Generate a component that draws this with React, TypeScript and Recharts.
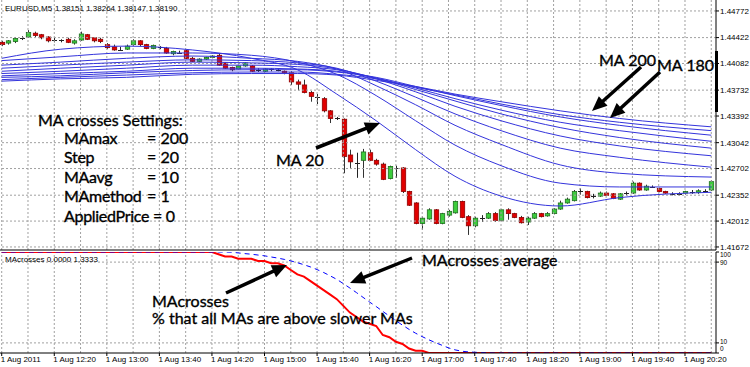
import React from "react";
import { ComposedChart, Bar, Line, XAxis, YAxis, ReferenceLine } from "recharts";

// EURUSD M5 candles, bar 0 = 11:40
const opens = [
  1.4436, 1.4435, 1.4437, 1.4441, 1.4443, 1.4448, 1.4446, 1.4443, 1.444, 1.4439, 1.444,
  1.4435, 1.4439, 1.4446, 1.4442, 1.444, 1.4433, 1.443, 1.4427, 1.4427, 1.4433, 1.4438,
  1.4433, 1.4428, 1.443, 1.4428, 1.4421, 1.4423, 1.4425, 1.4415, 1.4411, 1.4414, 1.4416,
  1.4419, 1.4409, 1.4403, 1.4401, 1.4405, 1.4405, 1.44, 1.4398, 1.4401, 1.44, 1.4398,
  1.4396, 1.4384, 1.438, 1.437, 1.4365, 1.4362, 1.4346, 1.4337, 1.4335, 1.4288, 1.4278,
  1.4281, 1.4291, 1.4281, 1.4276, 1.4257, 1.4272, 1.4271, 1.424, 1.4225, 1.4198, 1.4204,
  1.4216, 1.4198, 1.4209, 1.4212, 1.4227, 1.4207, 1.4195, 1.4206, 1.4205, 1.4211, 1.4202,
  1.4216, 1.4211, 1.4206, 1.42, 1.4205, 1.4211, 1.4208, 1.4211, 1.4217, 1.4225, 1.4228,
  1.4241, 1.424, 1.4235, 1.4234, 1.4238, 1.4237, 1.423, 1.4238, 1.4238, 1.4251, 1.4242,
  1.4247, 1.4244, 1.424, 1.4237, 1.4237, 1.4238, 1.424, 1.4239, 1.4241, 1.4242,
];
const highs = [
  1.4438, 1.4439, 1.4443, 1.4444, 1.4452, 1.445, 1.4447, 1.4444, 1.4442, 1.444, 1.4442,
  1.444, 1.445, 1.4447, 1.4443, 1.4442, 1.4435, 1.4433, 1.443, 1.4433, 1.444, 1.4439,
  1.4434, 1.4433, 1.4431, 1.443, 1.4425, 1.4425, 1.4426, 1.4417, 1.4415, 1.4417, 1.4419,
  1.4421, 1.441, 1.4404, 1.4406, 1.441, 1.4406, 1.4402, 1.4402, 1.4402, 1.4402, 1.4399,
  1.4398, 1.4387, 1.4387, 1.4372, 1.4368, 1.4364, 1.4347, 1.4338, 1.4336, 1.4295, 1.4291,
  1.4296, 1.4295, 1.4283, 1.4278, 1.4274, 1.4274, 1.4272, 1.4241, 1.4226, 1.4207, 1.4218,
  1.4217, 1.4212, 1.4216, 1.4228, 1.4228, 1.4209, 1.4207, 1.4209, 1.4213, 1.4213, 1.4217,
  1.4218, 1.4212, 1.4208, 1.4207, 1.4213, 1.4212, 1.4213, 1.4218, 1.4228, 1.4232, 1.4242,
  1.4244, 1.4241, 1.4237, 1.424, 1.424, 1.4238, 1.4238, 1.424, 1.4253, 1.4252, 1.4249,
  1.4248, 1.4245, 1.4241, 1.4239, 1.4239, 1.4241, 1.4242, 1.4243, 1.4243, 1.4255,
];
const lows = [
  1.4431, 1.4433, 1.4435, 1.4439, 1.4442, 1.4443, 1.444, 1.4436, 1.4436, 1.4436, 1.4435,
  1.4433, 1.4438, 1.4439, 1.4436, 1.4435, 1.4427, 1.4425, 1.4425, 1.4426, 1.4431, 1.4431,
  1.4427, 1.4427, 1.4427, 1.4421, 1.4419, 1.4421, 1.4414, 1.441, 1.441, 1.4413, 1.4415,
  1.4405, 1.4401, 1.4398, 1.44, 1.4404, 1.4397, 1.4397, 1.4397, 1.4398, 1.4398, 1.4394,
  1.438, 1.4373, 1.4369, 1.4358, 1.4355, 1.4344, 1.433, 1.4334, 1.4264, 1.4271, 1.4258,
  1.4258, 1.428, 1.4274, 1.4255, 1.4256, 1.4258, 1.4238, 1.4221, 1.4197, 1.419, 1.4203,
  1.4197, 1.4197, 1.4207, 1.4211, 1.4205, 1.4183, 1.4193, 1.42, 1.4204, 1.42, 1.4201,
  1.4203, 1.4205, 1.4198, 1.4196, 1.4204, 1.4206, 1.4207, 1.421, 1.4216, 1.4224, 1.4227,
  1.4236, 1.4231, 1.4231, 1.4233, 1.4234, 1.423, 1.4229, 1.4235, 1.4237, 1.4241, 1.4241,
  1.4245, 1.4239, 1.4237, 1.4235, 1.4235, 1.4236, 1.4237, 1.4237, 1.4239, 1.4241,
];
const closes = [
  1.4433, 1.4438, 1.4441, 1.4442, 1.4449, 1.4445, 1.4442, 1.4438, 1.4439, 1.4438, 1.4436,
  1.4438, 1.4447, 1.444, 1.4438, 1.4437, 1.4429, 1.4426, 1.4426, 1.4431, 1.4438, 1.4433,
  1.4428, 1.4432, 1.4429, 1.4422, 1.4424, 1.4422, 1.4415, 1.4411, 1.4414, 1.4416, 1.4418,
  1.4406, 1.4402, 1.44, 1.4405, 1.4409, 1.4398, 1.4399, 1.4401, 1.44, 1.4399, 1.4396,
  1.4384, 1.4381, 1.437, 1.4365, 1.4364, 1.4346, 1.4336, 1.4336, 1.4286, 1.4279, 1.4277,
  1.4292, 1.4281, 1.4276, 1.4256, 1.4273, 1.4271, 1.424, 1.4222, 1.4198, 1.4205, 1.4216,
  1.4198, 1.4211, 1.4214, 1.4227, 1.4206, 1.4195, 1.4205, 1.4205, 1.4211, 1.4202, 1.4216,
  1.4211, 1.4206, 1.4199, 1.4205, 1.4211, 1.4207, 1.4211, 1.4217, 1.4225, 1.423, 1.424,
  1.424, 1.4232, 1.4234, 1.4238, 1.4235, 1.4231, 1.4237, 1.4237, 1.4251, 1.4242, 1.4247,
  1.4246, 1.424, 1.4238, 1.4236, 1.4236, 1.424, 1.4239, 1.4241, 1.424, 1.4253,
];

const priceTicks = [
  1.44772, 1.44422, 1.44082, 1.43732, 1.43392, 1.43042, 1.42702, 1.42352, 1.42012, 1.41672,
];

const timeTicks = [0, 8, 16, 24, 32, 40, 48, 56, 64, 72, 80, 88, 96, 104];
const timeLabels = [
  "1 Aug 2011", "1 Aug 12:20", "1 Aug 13:00", "1 Aug 13:40", "1 Aug 14:20", "1 Aug 15:00",
  "1 Aug 15:40", "1 Aug 16:20", "1 Aug 17:00", "1 Aug 17:40", "1 Aug 18:20", "1 Aug 19:00",
  "1 Aug 19:40", "1 Aug 20:20",
];

// moving averages, read at these bars
const maBars = [0, 9, 19, 29, 38, 45, 51, 57, 63, 69, 76, 85, 94, 108];
const ma20 = [1.4415, 1.4427, 1.4431, 1.4426, 1.4415, 1.44, 1.4368, 1.4333, 1.4295, 1.426, 1.4234, 1.4221, 1.4232, 1.4239];
const ma40 = [1.4412, 1.4417, 1.4422, 1.4422, 1.4419, 1.441, 1.4394, 1.4366, 1.4333, 1.4301, 1.4274, 1.4251, 1.4246, 1.4246];
const ma60 = [1.4406, 1.441, 1.4415, 1.4418, 1.4415, 1.4411, 1.4401, 1.4379, 1.4354, 1.4327, 1.4302, 1.4275, 1.4264, 1.4259];
const ma80 = [1.4402, 1.4406, 1.441, 1.4413, 1.4412, 1.4409, 1.4402, 1.4385, 1.4364, 1.4342, 1.432, 1.4297, 1.4285, 1.4272];
const ma100 = [1.4398, 1.4402, 1.4406, 1.441, 1.4409, 1.4407, 1.4401, 1.4388, 1.4371, 1.4352, 1.4333, 1.4313, 1.43, 1.4287];
const ma120 = [1.4395, 1.4398, 1.4402, 1.4406, 1.4406, 1.4404, 1.44, 1.4389, 1.4374, 1.4359, 1.4342, 1.4324, 1.4311, 1.4297];
const ma140 = [1.4392, 1.4395, 1.4398, 1.4402, 1.4402, 1.4401, 1.4398, 1.4389, 1.4376, 1.4362, 1.4347, 1.4331, 1.432, 1.4306];
const ma160 = [1.439, 1.4392, 1.4396, 1.4399, 1.44, 1.44, 1.4397, 1.439, 1.4378, 1.4366, 1.4353, 1.4338, 1.4327, 1.4314];
const ma180 = [1.4387, 1.439, 1.4393, 1.4396, 1.4397, 1.4397, 1.4394, 1.4388, 1.4377, 1.4367, 1.4355, 1.4341, 1.4331, 1.432];
const ma200 = [1.4385, 1.4388, 1.439, 1.4394, 1.4395, 1.4395, 1.4393, 1.4386, 1.4378, 1.4368, 1.4358, 1.4346, 1.4336, 1.4325];
const maPeriods = [20, 40, 60, 80, 100, 120, 140, 160, 180, 200];
const maSeries = [ma20, ma40, ma60, ma80, ma100, ma120, ma140, ma160, ma180, ma200];

// MAcrosses indicator (%), one value per bar
const macrosses = [
  100, 100, 100, 100, 100, 100, 100, 100, 100, 100, 100,
  100, 100, 100, 100, 100, 100, 100, 100, 100, 100, 100,
  100, 100, 100, 100, 100, 100, 100, 100, 100, 100, 100,
  97.8, 95.6, 95.6, 93.3, 93.3, 93.3, 91.1, 91.1, 88.9, 88.9, 86.7,
  82.2, 77.8, 75.6, 71.1, 66.7, 62.2, 57.8, 53.3, 46.7, 40, 35.6,
  31.1, 28.9, 26.7, 17.8, 15.6, 11.1, 8.9, 4.4, 2.2, 2.2, 0,
  0, 0, 0, 0, 0, 0, 0, 0, 0, 0, 0,
  0, 0, 0, 0, 0, 0, 0, 0, 0, 0, 0,
  0, 0, 0, 0, 0, 0, 0, 0, 0, 0, 0,
  0, 0, 0, 0, 0, 0, 0, 0, 0, 0,
];
const macrossesAvg = [
  100, 100, 100, 100, 100, 100, 100, 100, 100, 100, 100,
  100, 100, 100, 100, 100, 100, 100, 100, 100, 100, 100,
  100, 100, 100, 100, 100, 100, 100, 100, 100, 100, 100,
  100, 100, 99.8, 99.1, 98.4, 97.8, 97, 96.2, 95.1, 94, 92.7,
  91.2, 89.4, 87.4, 85.2, 82.6, 79.7, 76.4, 72.9, 68.7, 64.3, 59.8,
  55.1, 50.4, 46, 41.2, 36.6, 32, 27.6, 23.4, 19.6, 16.2, 13.1,
  10.3, 7.7, 5.1, 3.1, 1.8, 1.1, 0.7, 0.4, 0.2, 0, 0,
  0, 0, 0, 0, 0, 0, 0, 0, 0, 0, 0,
  0, 0, 0, 0, 0, 0, 0, 0, 0, 0, 0,
  0, 0, 0, 0, 0, 0, 0, 0, 0, 0,
];
const levelTicks = [0, 10, 90, 100];

const X_DOMAIN = [-0.26, 108.72];
const gridBars = Array.from({ length: 28 }, (_, k) => k * 4);
const GRID = "#a0a0a0";
const MA_BLUE = "#3434dc";
const AXIS_FONT = "Liberation Sans, Arial, sans-serif";
const NOTE_FONT = "Lato, 'Open Sans', sans-serif";

const priceRows = opens.map((o, i) => ({
  i,
  open: o,
  high: highs[i],
  low: lows[i],
  close: closes[i],
  range: [lows[i], highs[i]],
}));

const maData = maSeries.map((s) => maBars.map((b, k) => ({ i: b, v: s[k] })));

const indRows = macrosses.map((v, i) => ({ i, mac: v, avg: macrossesAvg[i] }));

function Candle(props: any) {
  const { x, y, width, height, payload } = props;
  if (!payload || x == null || y == null) return null;
  const cx = Math.round(x + width / 2) + 0.5;
  const top = Math.min(y, y + height);
  const h = Math.abs(height);
  const span = payload.high - payload.low || 1;
  const py = (v: number) => top + ((payload.high - v) / span) * h;
  const yo = py(payload.open);
  const yc = py(payload.close);
  const bt = Math.min(yo, yc);
  const bb = Math.max(yo, yc);
  const up = payload.close > payload.open;
  if (bb - bt < 1.2) {
    const m = Math.round((bt + bb) / 2) + 0.5;
    return (
      <g>
        <line x1={cx} x2={cx} y1={top} y2={top + h} stroke="#222" />
        <line x1={cx - 2.5} x2={cx + 2.5} y1={m} y2={m} stroke="#222" />
      </g>
    );
  }
  return (
    <g>
      <line x1={cx} x2={cx} y1={top} y2={top + h} stroke="#333" />
      <rect
        x={cx - 2.2}
        y={bt}
        width={4.4}
        height={bb - bt}
        fill={up ? "#3ccc3c" : "#e00000"}
        stroke={up ? "#1f6f1f" : "#900000"}
        strokeWidth={0.8}
      />
    </g>
  );
}

function TimeTick(props: any) {
  const { x, y, payload } = props;
  const label = timeLabels[timeTicks.indexOf(payload.value)];
  return (
    <text x={x - 1} y={y + 4} textAnchor="start" fontSize={8} fontFamily={AXIS_FONT} fill="#000">
      {label}
    </text>
  );
}

// level labels squeezed inside the panel like the terminal does
function LevelTick(props: any) {
  const { x, y, payload } = props;
  const v = payload.value;
  const dy = v === 100 ? 4.5 : v === 90 ? 2.5 : v === 10 ? 1 : -2.5;
  return (
    <text x={x} y={y + dy} textAnchor="start" fontSize={6.5} fontFamily={AXIS_FONT} fill="#000">
      {v}
    </text>
  );
}

function Arrow({ x1, y1, x2, y2 }: { x1: number; y1: number; x2: number; y2: number }) {
  const len = Math.hypot(x2 - x1, y2 - y1);
  const ux = (x2 - x1) / len;
  const uy = (y2 - y1) / len;
  const hl = 15;
  const hw = 6.5;
  const bx = x2 - ux * hl;
  const by = y2 - uy * hl;
  const pts = `${x2},${y2} ${bx - uy * hw},${by + ux * hw} ${bx + uy * hw},${by - ux * hw}`;
  return (
    <g>
      <line x1={x1} y1={y1} x2={bx + ux * 2} y2={by + uy * 2} stroke="#000" strokeWidth={3.5} />
      <polygon points={pts} fill="#000" />
    </g>
  );
}

const settings = [
  ["MAmax", "= 200"],
  ["Step", "= 20"],
  ["MAavg", "= 10"],
  ["MAmethod", "= 1"],
];

export default function App() {
  return (
    <div style={{ position: "absolute", left: 0, top: 0, width: 750, height: 367, background: "#fff", overflow: "hidden" }}>
      <div style={{ position: "absolute", left: 0, top: 0 }}>
        <ComposedChart width={750} height={255} data={priceRows} margin={{ top: 0, right: 0, bottom: 5, left: 0 }}>
          <XAxis type="number" dataKey="i" domain={X_DOMAIN} allowDataOverflow hide />
          <YAxis
            orientation="right"
            width={34}
            domain={[1.41632, 1.44916]}
            allowDataOverflow
            ticks={priceTicks}
            interval={0}
            tickFormatter={(v: number) => v.toFixed(5)}
            tick={{ fontSize: 8, fill: "#000", fontFamily: AXIS_FONT }}
            tickSize={3}
            tickMargin={1}
            axisLine={{ stroke: "#000" }}
            tickLine={{ stroke: "#000" }}
          />
          {gridBars.map((b) => (
            <ReferenceLine key={`v${b}`} x={b} stroke={GRID} strokeDasharray="2 2" />
          ))}
          {priceTicks.map((p) => (
            <ReferenceLine key={`h${p}`} y={p} stroke={GRID} strokeDasharray="2 2" />
          ))}
          <Bar dataKey="range" barSize={5} shape={(p: any) => <Candle {...p} />} isAnimationActive={false} />
          {maPeriods.map((p, j) => (
            <Line
              key={p}
              data={maData[j]}
              dataKey="v"
              type="monotone"
              dot={false}
              activeDot={false}
              stroke={MA_BLUE}
              strokeWidth={1}
              isAnimationActive={false}
            />
          ))}
        </ComposedChart>
      </div>

      <div style={{ position: "absolute", left: 0, top: 250 }}>
        <ComposedChart width={750} height={117} data={indRows} margin={{ top: 2, right: 0, bottom: 0, left: 0 }}>
          <XAxis
            type="number"
            dataKey="i"
            domain={X_DOMAIN}
            allowDataOverflow
            ticks={timeTicks}
            interval={0}
            height={14}
            tick={<TimeTick />}
            tickSize={3}
            axisLine={{ stroke: "#000" }}
            tickLine={{ stroke: "#000" }}
          />
          <YAxis
            orientation="right"
            width={34}
            domain={[0, 100]}
            allowDataOverflow
            ticks={levelTicks}
            interval={0}
            tick={<LevelTick />}
            tickSize={3}
            tickMargin={1}
            axisLine={{ stroke: "#000" }}
            tickLine={{ stroke: "#000" }}
          />
          {gridBars.map((b) => (
            <ReferenceLine key={`v${b}`} x={b} stroke={GRID} strokeDasharray="2 2" />
          ))}
          <ReferenceLine y={10} stroke={GRID} strokeDasharray="2 2" />
          <ReferenceLine y={90} stroke={GRID} strokeDasharray="2 2" />
          <Line dataKey="mac" type="linear" dot={false} activeDot={false} stroke="#ff0000" strokeWidth={2} isAnimationActive={false} />
          <Line
            dataKey="avg"
            type="linear"
            dot={false}
            activeDot={false}
            stroke="#0000ff"
            strokeWidth={1}
            strokeDasharray="5 4"
            isAnimationActive={false}
          />
        </ComposedChart>
      </div>

      <svg width={750} height={367} style={{ position: "absolute", left: 0, top: 0, pointerEvents: "none" }}>
        <line x1={0} x2={716} y1={250} y2={250} stroke="#000" />
        <rect x={715} y={51} width={3} height={61} fill="#000" />
        <g fontFamily={AXIS_FONT} fontSize={8} fill="#000">
          <text x={5} y={10.5}>EURUSD,M5</text>
          <text x={55} y={10.5}>1.38151 1.38264 1.38147 1.38190</text>
          <text x={5} y={261.5}>MAcrosses 0.0000 1.3333</text>
        </g>
        <g fontFamily={NOTE_FONT} fontSize={16} fill="#000" stroke="#000" strokeWidth={0.35}>
          <text x={38} y={126}>MA crosses Settings:</text>
          {settings.map(([k, v], n) => (
            <g key={k}>
              <text x={64} y={143.5 + n * 19.5} letterSpacing={-0.3}>{k}</text>
              <text x={147} y={143.5 + n * 19.5}>{v}</text>
            </g>
          ))}
          <text x={64} y={221.5} letterSpacing={-0.3}>AppliedPrice = 0</text>
          <text x={276} y={166}>MA 20</text>
          <text x={599} y={66}>MA 200</text>
          <text x={657} y={70.5}>MA 180</text>
          <text x={152} y={306.5}>MAcrosses</text>
          <text x={152} y={324}>% that all MAs are above slower MAs</text>
          <text x={422} y={266}>MAcrosses average</text>
        </g>
        <Arrow x1={641} y1={67} x2={592} y2={111} />
        <Arrow x1={660} y1={72} x2={610} y2={118} />
        <Arrow x1={316} y1={148} x2={380} y2={123} />
        <Arrow x1={226} y1={293} x2={287} y2={265} />
        <Arrow x1={412} y1={258} x2={350} y2={283} />
      </svg>
    </div>
  );
}
